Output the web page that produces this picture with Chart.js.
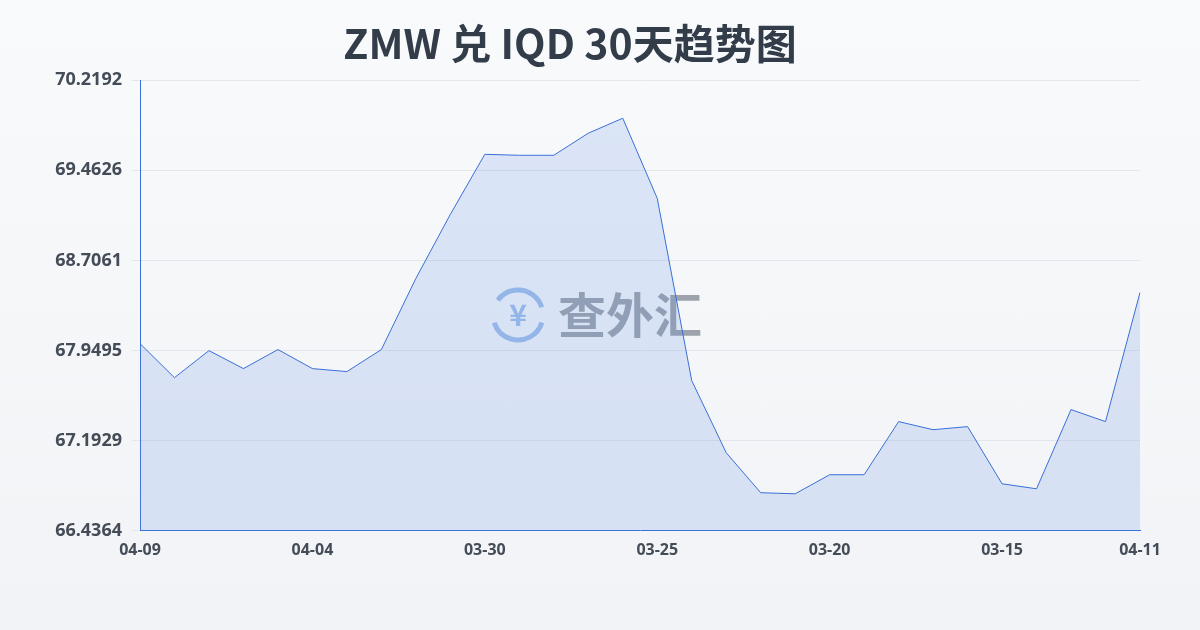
<!DOCTYPE html>
<html><head><meta charset="utf-8">
<script src="https://cdn.jsdelivr.net/npm/chart.js@4/dist/chart.umd.min.js"></script>
<style>html,body{margin:0;padding:0;}body{width:1200px;height:630px;background:linear-gradient(#f9fafc,#f1f3f6);}
#w{position:absolute;left:0;top:0;width:1200px;height:630px;}</style></head>
<body><div id="w"><canvas id="c" width="1200" height="630"></canvas></div>
<script>
const titleText = "ZMW 兑 IQD 30天趋势图";
const dates = ["04-09","04-08","04-07","04-06","04-05","04-04","04-03","04-02","04-01","03-31","03-30","03-29","03-28","03-27","03-26","03-25","03-24","03-23","03-22","03-21","03-20","03-19","03-18","03-17","03-16","03-15","03-14","03-13","03-12","04-11"];
const rates = [68.008,67.722,67.949,67.798,67.958,67.798,67.773,67.958,68.555,69.093,69.597,69.589,69.589,69.774,69.900,69.227,67.697,67.092,66.756,66.747,66.907,66.907,67.353,67.285,67.311,66.831,66.789,67.454,67.353,68.437];
const yTicks = [66.4364,67.1929,67.9495,68.7061,69.4626,70.2192];
const shownIdx = [0,5,10,15,20,25,29];

const wm = {id:'wm',beforeDatasetsDraw(ch){const c=ch.ctx;c.save();
 c.globalAlpha=0.55;c.strokeStyle='#5b8fd8';c.lineWidth=5;
 c.beginPath();c.arc(518,315,25,0.3,Math.PI*0.9);c.stroke();
 c.beginPath();c.arc(518,315,25,Math.PI*1.2,Math.PI*1.9);c.stroke();
 c.fillStyle='#5b8fd8';c.font='bold 30px "Noto Sans CJK SC"';c.textAlign='center';c.textBaseline='middle';c.fillText('¥',518,315);
 c.fillStyle='#555f6b';c.font='bold 48px "Noto Sans CJK SC"';c.textAlign='left';c.fillText('查外汇',558,315);
 c.restore();}};

new Chart(document.getElementById('c'),{type:'line',
 data:{labels:dates,datasets:[{data:rates,borderColor:'#3a6fd6',borderWidth:1,backgroundColor:'rgba(90,140,225,0.18)',fill:'start',pointRadius:0,tension:0}]},
 options:{responsive:false,animation:false,
  layout:{padding:{left:0,right:60,top:0,bottom:68}},
  plugins:{legend:{display:false},tooltip:{enabled:false},
   title:{display:true,text:titleText,color:'#333d4a',font:{size:41,weight:'bold',family:'"Noto Sans CJK SC"'},padding:{top:19,bottom:12}}},
  scales:{
   x:{grid:{display:false},border:{color:'#3a6fd6'},
    ticks:{autoSkip:false,maxRotation:0,padding:2,color:'#444c57',font:{size:16,weight:'bold',family:'"Noto Sans"'},
     callback:(v,i)=>shownIdx.includes(i)?dates[i]:''}},
   y:{min:yTicks[0],max:yTicks[5],afterFit(s){s.width=140;},
    afterBuildTicks(s){s.ticks=yTicks.map(v=>({value:v}));},
    grid:{color:'#e3e6ea'},border:{color:'#3a6fd6'},
    ticks:{padding:10,color:'#444c57',font:{size:18,weight:'bold',family:'"Noto Sans"'},callback:v=>v.toFixed(4)}}
  }},plugins:[wm]});
</script></body></html>
